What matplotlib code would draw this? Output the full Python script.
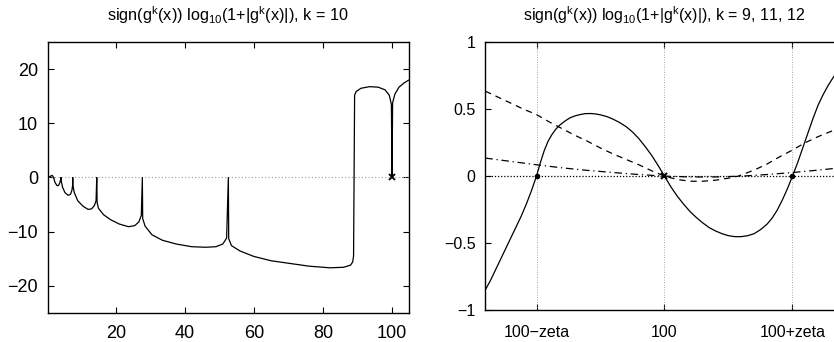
import matplotlib
matplotlib.use("Agg")
import matplotlib.pyplot as plt

plt.rcParams['font.family'] = ['Liberation Sans', 'DejaVu Sans']
plt.rcParams['mathtext.default'] = 'regular'
plt.rcParams['font.size'] = 10

# left panel: k = 10, x from 0 to ~105
left_x = [0.4, 1.0, 1.6, 2.0, 2.4, 3.0, 3.4, 3.8, 4.1, 4.15, 4.2, 4.6, 5.3, 6.2, 6.9,
          7.3, 7.5, 7.55, 7.6, 8.0, 9.0, 10.5, 12.0, 13.0, 13.8, 14.3, 14.5, 14.6, 15.0,
          16.5, 18.5, 21.0, 23.7, 25.5, 26.7, 27.4, 27.7, 27.8, 28.5, 30.5, 33.5, 37.5,
          42.0, 46.0, 49.0, 51.0, 52.1, 52.6, 52.7, 53.5, 56.0, 60.0, 65.0, 70.5, 76.0,
          82.0, 86.0, 88.0, 88.6, 88.85, 89.0, 89.15, 89.6, 91.0, 93.5, 96.0, 98.0, 99.2, 99.8,
          100.0, 100.15, 100.8, 102.0, 103.5, 104.8]
left_y = [0.1, 0.2, 0.4, 0.0, -0.9, -1.5, -1.5, -1.0, -0.3, 0.0, -0.6, -1.8, -2.8, -3.3, -3.1,
          -2.4, -1.5, 0.0, -1.5, -2.8, -4.3, -5.3, -5.9, -5.8, -5.2, -4.3, 0.0, -4.6, -5.7,
          -6.9, -7.8, -8.6, -9.1, -8.9, -8.2, -7.0, 0.0, -7.6, -9.0, -10.6, -11.6, -12.3,
          -12.8, -12.9, -12.8, -12.3, -11.2, 0.0, -11.3, -12.6, -13.6, -14.6, -15.4, -15.9, -16.4,
          -16.7, -16.6, -16.2, -15.6, -14.5, 0.0, 15.2, 15.9, 16.5, 16.8, 16.7, 16.2, 15.2, 13.5,
          0.0, 13.8, 15.4, 16.7, 17.5, 18.0]
left_root = (100, 0)

# right panel: x measured in units of zeta around 100
xs_solid = [-1.40, -1.36, -1.32, -1.28, -1.24, -1.20, -1.16, -1.12, -1.08, -1.04, -1.00,
            -0.97, -0.94, -0.91, -0.88, -0.85, -0.82, -0.78, -0.74, -0.70, -0.66, -0.62,
            -0.58, -0.54, -0.50, -0.45, -0.40, -0.35, -0.30, -0.25, -0.20, -0.15, -0.10,
            -0.05, 0.00, 0.05, 0.10, 0.15, 0.20, 0.25, 0.30, 0.35, 0.40, 0.45, 0.50, 0.55,
            0.60, 0.65, 0.70, 0.75, 0.80, 0.84, 0.88, 0.92, 0.96, 1.00, 1.04, 1.08, 1.12,
            1.16, 1.20, 1.24, 1.28, 1.32, 1.36, 1.40]
ys_solid = [-0.85, -0.78, -0.70, -0.62, -0.54, -0.46, -0.38, -0.30, -0.21, -0.11, 0.00,
            0.10, 0.19, 0.26, 0.31, 0.35, 0.38, 0.41, 0.435, 0.45, 0.46, 0.467,
            0.468, 0.465, 0.458, 0.445, 0.425, 0.40, 0.37, 0.33, 0.28, 0.22, 0.155,
            0.08, 0.00, -0.08, -0.15, -0.21, -0.265, -0.31, -0.35, -0.385, -0.41, -0.43, -0.445, -0.452,
            -0.452, -0.445, -0.43, -0.40, -0.36, -0.315, -0.255, -0.18, -0.095, 0.00, 0.10, 0.21, 0.32,
            0.43, 0.53, 0.61, 0.68, 0.74, 0.79, 0.84]
xs_dash = [-1.40, -1.30, -1.20, -1.10, -1.00, -0.90, -0.80, -0.70, -0.60, -0.50, -0.40, -0.30,
           -0.20, -0.10, 0.00, 0.10, 0.20, 0.30, 0.40, 0.50, 0.575, 0.70, 0.80, 0.90, 1.00,
           1.10, 1.20, 1.34, 1.40]
ys_dash = [0.635, 0.59, 0.545, 0.50, 0.46, 0.405, 0.355, 0.305, 0.26, 0.21, 0.165, 0.125,
           0.085, 0.04, 0.00, -0.025, -0.038, -0.038, -0.03, -0.015, 0.00, 0.045, 0.09, 0.145, 0.195,
           0.25, 0.295, 0.35, 0.37]
xs_dashdot = [-1.40, -1.20, -1.00, -0.80, -0.60, -0.40, -0.20, 0.00, 0.20, 0.40, 0.60, 0.80,
              1.00, 1.20, 1.40]
ys_dashdot = [0.135, 0.11, 0.085, 0.062, 0.043, 0.027, 0.012, 0.00, -0.006, -0.006, 0.00, 0.012,
              0.027, 0.045, 0.065]
dot_x = [-1, 1]
xtick_pos = [-1, 0, 1]
xtick_lab = ['100\u2212zeta', '100', '100+zeta']
ytick_pos = [-1, -0.5, 0, 0.5, 1]
ytick_lab = ['\u22121', '\u22120.5', '0', '0.5', '1']

fig = plt.figure(figsize=(8.34, 3.42), dpi=100)
ax1 = fig.add_axes([0.0572, 0.0857, 0.4328, 0.7906])
ax2 = fig.add_axes([0.5819, 0.0936, 0.4297, 0.7827])

# left
ax1.axhline(0, color='0.6', lw=0.8, ls=(0, (1, 2)))
ax1.plot(left_x, left_y, color='k', lw=0.9)
ax1.plot(*left_root, marker='x', color='k', ms=4, mew=1.3)
ax1.set_xlim(0.3, 104.8)
ax1.set_ylim(-25, 25)
ax1.set_xticks([20, 40, 60, 80, 100])
ax1.set_yticks([-20, -10, 0, 10, 20])
ax1.set_title('sign(g$^k$(x)) log$_{10}$(1+|g$^k$(x)|), k = 10', fontsize=11.7, pad=15)
ax1.tick_params(labelsize=13)
ax1.tick_params(axis='x', pad=9)
ax1.tick_params(axis='y', pad=7)

# right
for xv in xtick_pos:
    ax2.axvline(xv, color='0.55', lw=0.6, ls=(0, (1, 2)))
ax2.axhline(0, color='k', lw=0.9, ls=(0, (1, 1.5)))
ax2.plot(xs_solid, ys_solid, color='k', lw=0.9)
ax2.plot(xs_dash, ys_dash, color='k', lw=0.9, ls=(0, (5, 4)))
ax2.plot(xs_dashdot, ys_dashdot, color='k', lw=0.9, ls=(0, (6, 3, 1, 3)))
ax2.plot(dot_x, [0, 0], 'o', color='k', ms=3)
ax2.plot(0, 0, marker='x', color='k', ms=5, mew=1.5)
ax2.set_xlim(-1.4, 1.4)
ax2.set_ylim(-1, 1)
ax2.set_xticks(xtick_pos)
ax2.set_xticklabels(xtick_lab)
ax2.set_yticks(ytick_pos)
ax2.set_yticklabels(ytick_lab)
ax2.set_title('sign(g$^k$(x)) log$_{10}$(1+|g$^k$(x)|), k = 9, 11, 12', fontsize=11.5, pad=15)
ax2.tick_params(labelsize=11.5)
ax2.tick_params(axis='x', pad=11)
ax2.tick_params(axis='y', pad=7)

for ax in (ax1, ax2):
    ax.tick_params(direction='in', top=True, right=True, length=4, width=0.8)
    for s in ax.spines.values():
        s.set_linewidth(1.0)

fig.savefig('out.png', dpi=100)
